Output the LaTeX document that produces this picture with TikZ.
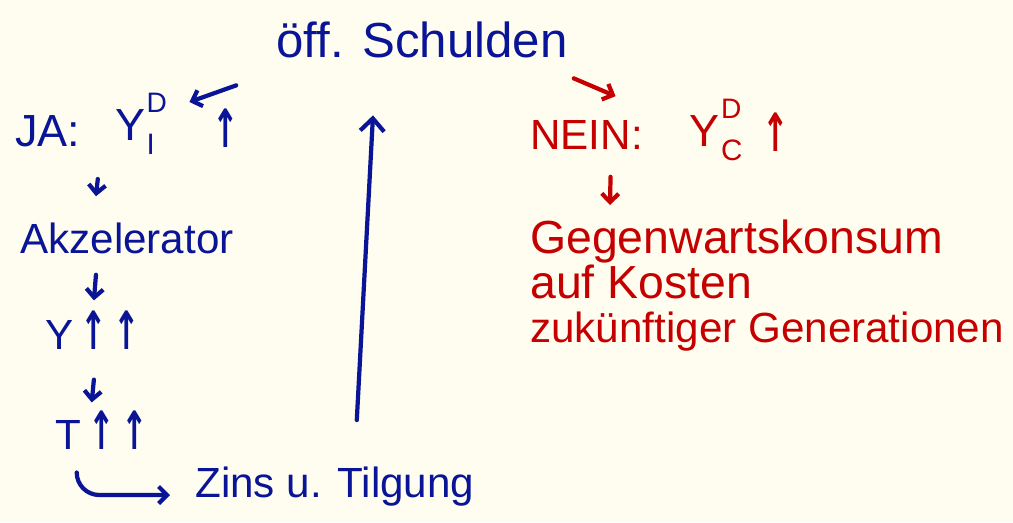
\documentclass[tikz,border=0pt]{standalone}
\usepackage{fontspec}
\setmainfont{Liberation Sans}
\newfontfamily\symfont{DejaVu Sans}
\usetikzlibrary{arrows.meta,calc}
\definecolor{bg}{HTML}{FFFDF0}
\definecolor{pen}{HTML}{0A1496}
\definecolor{redpen}{HTML}{C40000}
\newcommand{\uparr}{{\symfont\bfseries\scalebox{0.75}[1.25]{↑}}}
\newcommand{\supsub}[3]{#1\kern1pt\rlap{\raisebox{0.62em}{\fontsize{20}{20}\selectfont #2}}\raisebox{-0.32em}{\fontsize{21}{21}\selectfont #3}}
\begin{document}
\begin{tikzpicture}[x=0.025cm,y=-0.025cm,
  txt/.style={inner sep=0pt, font=\fontsize{30}{31.5}\selectfont},
  arr/.style={line width=3pt, line cap=round, line join=round,
    -{Straight Barb[length=6pt,width=12pt]}},
  bigarr/.style={line width=3pt, line cap=round, line join=round,
    -{Straight Barb[length=9pt,width=17pt]}}]
\fill[bg] (0,0) rectangle (1013,522);
\useasboundingbox (0,0) rectangle (1013,522);

% blue (left) side
\node[txt,pen,font=\fontsize{35}{36}\selectfont] (schulden) at (422,40) {öff. Schulden};
\node[txt,pen,font=\fontsize{32}{33}\selectfont,anchor=west] (ja) at (15,131) {JA:};
\node[txt,pen,font=\fontsize{32}{33}\selectfont] (yi) at (135,124) {\supsub{Y}{D}{I}};
\node[txt,pen] (up1) at (226,128) {\uparr};
\node[txt,pen,anchor=west] (akz) at (20,238) {Akzelerator};
\node[txt,pen,anchor=west] (y) at (45,330) {Y\,\uparr\,\uparr};
\node[txt,pen,anchor=west] (t) at (55,430) {T\,\uparr\,\uparr};
\node[txt,pen,anchor=west] (zins) at (195,487) {Zins u. Tilgung};

% red (right) side
\node[txt,redpen,anchor=west] (nein) at (530,135) {NEIN:};
\node[txt,redpen,font=\fontsize{32}{33}\selectfont] (yc) at (716,130) {\supsub{Y}{D}{C}};
\node[txt,redpen] (up2) at (776,132) {\uparr};
\node[txt,redpen,anchor=north west,align=left] (gegen) at (530,220)
  {{\fontsize{33}{31.5}\selectfont Gegenwartskonsum}\\{\fontsize{33}{31.5}\selectfont auf Kosten}\\zukünftiger Generationen};

% blue connectors
\draw[arr,pen] ($(schulden.south west)+(-40,27)$) -- ($(up1.west)+(-23,-26)$);
\draw[arr,pen] ($(ja.south)+(50,32)$) -- ($(akz.north)+(-31,-26)$);
\draw[arr,pen] ($(akz.south)+(-31,21)$) -- ($(y.north)+(1,-10)$);
\draw[arr,pen] ($(y.south)+(1,30)$) -- ($(t.north)+(-10,-8)$);
\draw[arr,pen,rounded corners=16] ($(t.south)+(-25,23)$) |- ($(zins.west)+(-25,8)$);
\draw[bigarr,pen] ($(zins.north)+(22,-47)$) -- ($(schulden.south)+(-49,57)$);

% red connectors
\draw[arr,redpen] ($(schulden.south east)+(6,20)$) -- ($(nein.north)+(29,-24)$);
\draw[arr,redpen] ($(nein.south)+(24,27)$) -- ($(gegen.north west)+(80,-15)$);
\end{tikzpicture}
\end{document}
